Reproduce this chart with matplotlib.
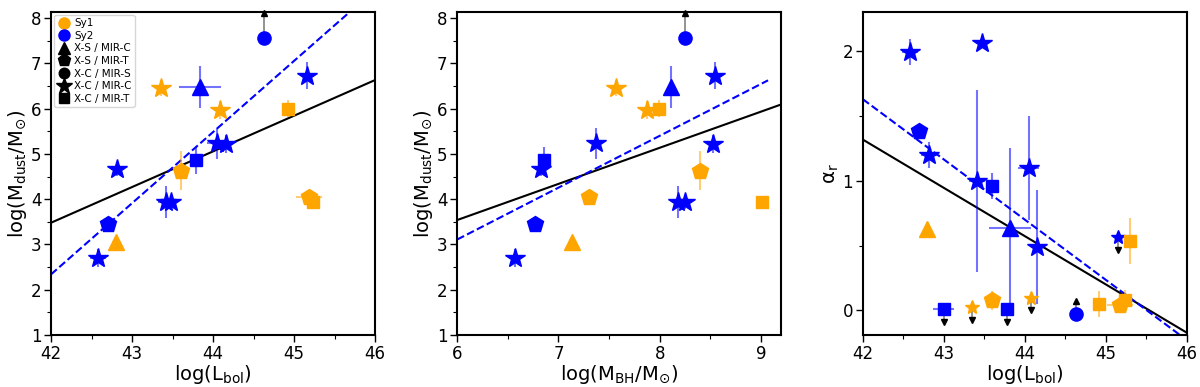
import numpy as np
import matplotlib
matplotlib.use('Agg')
from matplotlib import pyplot as plt
from matplotlib.lines import Line2D
from matplotlib.ticker import MultipleLocator

# sample shared by panels 1 and 2
lbol = [44.63, 45.16, 43.84, 43.36, 44.09, 44.92, 44.05, 44.16, 43.79,
        43.60, 42.82, 43.42, 43.48, 45.18, 45.24, 42.70, 42.80, 42.58]
lbol_err = [0.0, 0.05, 0.26, 0.05, 0.05, 0.05, 0.12, 0.05, 0.05,
            0.05, 0.08, 0.10, 0.05, 0.16, 0.05, 0.05, 0.05, 0.10]
mdust = [7.55, 6.72, 6.47, 6.45, 5.97, 6.00, 5.23, 5.22, 4.86,
         4.63, 4.66, 3.94, 3.94, 4.05, 3.94, 3.45, 3.05, 2.71]
mdust_err = [0.0, 0.30, 0.46, 0.18, 0.20, 0.18, 0.35, 0.20, 0.30,
             0.43, 0.15, 0.35, 0.15, 0.10, 0.05, 0.15, 0.05, 0.20]
mbh = [8.25, 8.55, 8.11, 7.57, 7.87, 7.99, 7.37, 8.53, 6.86,
       8.40, 6.83, 8.18, 8.25, 7.30, 9.01, 6.77, 7.13, 6.57]
agn_type = ['Sy2', 'Sy2', 'Sy2', 'Sy1', 'Sy1', 'Sy1', 'Sy2', 'Sy2', 'Sy2',
            'Sy1', 'Sy2', 'Sy2', 'Sy2', 'Sy1', 'Sy1', 'Sy2', 'Sy1', 'Sy2']
agn_class = ['X-C / MIR-S', 'X-C / MIR-C', 'X-S / MIR-C', 'X-C / MIR-C',
             'X-C / MIR-C', 'X-C / MIR-T', 'X-C / MIR-C', 'X-C / MIR-C',
             'X-C / MIR-T', 'X-S / MIR-T', 'X-C / MIR-C', 'X-C / MIR-C',
             'X-C / MIR-C', 'X-S / MIR-T', 'X-C / MIR-T', 'X-S / MIR-T',
             'X-S / MIR-C', 'X-C / MIR-C']
mdust_lim = ['lo', '', '', '', '', '', '', '', '',
             '', '', '', '', '', '', '', '', '']

# radio spectral index sample (panel 3)
a_lbol = [42.58, 43.47, 42.69, 42.82, 43.41, 43.60, 44.05, 43.82, 44.15,
          45.15, 45.30, 42.79, 43.59, 43.35, 44.08, 44.63, 44.91, 45.17,
          45.24, 43.00, 43.78]
a_lbol_err = [0.10, 0.05, 0.05, 0.10, 0.10, 0.05, 0.13, 0.26, 0.05,
              0.0, 0.0, 0.0, 0.05, 0.0, 0.0, 0.0, 0.0, 0.16,
              0.05, 0.13, 0.0]
alpha_r = [1.99, 2.06, 1.38, 1.20, 1.00, 0.96, 1.10, 0.635, 0.49,
           0.565, 0.535, 0.625, 0.077, 0.03, 0.10, -0.03, 0.05, 0.045,
           0.08, 0.01, 0.01]
alpha_err = [0.10, 0.03, 0.05, 0.10, 0.70, 0.10, 0.40, 0.62, 0.44,
             0.0, 0.18, 0.0, 0.07, 0.0, 0.0, 0.0, 0.10, 0.03,
             0.08, 0.0, 0.0]
a_type = ['Sy2', 'Sy2', 'Sy2', 'Sy2', 'Sy2', 'Sy2', 'Sy2', 'Sy2', 'Sy2',
          'Sy2', 'Sy1', 'Sy1', 'Sy1', 'Sy1', 'Sy1', 'Sy2', 'Sy1', 'Sy1',
          'Sy1', 'Sy2', 'Sy2']
a_class = ['X-C / MIR-C', 'X-C / MIR-C', 'X-S / MIR-T', 'X-C / MIR-C',
           'X-C / MIR-C', 'X-C / MIR-T', 'X-C / MIR-C', 'X-S / MIR-C',
           'X-C / MIR-C', 'X-C / MIR-C', 'X-C / MIR-T', 'X-S / MIR-C',
           'X-S / MIR-T', 'X-C / MIR-C', 'X-C / MIR-C', 'X-C / MIR-S',
           'X-C / MIR-T', 'X-S / MIR-T', 'X-C / MIR-T', 'X-C / MIR-T',
           'X-C / MIR-T']
alpha_lim = ['', '', '', '', '', '', '', '', '',
             'up', '', '', '', 'up', 'up', 'lo', '', '',
             '', 'up', 'up']

# linear fits: (slope, intercept, x start, x end)
fit_lbol_all = (0.787, -29.574, 42.0, 46.0)
fit_lbol_sy2 = (1.570, -63.600, 42.0, 46.0)
fit_mbh_all = (0.797, -1.242, 6.0, 9.2)
fit_mbh_sy2 = (1.144, -3.754, 6.0, 9.07)
fit_alpha_all = (-0.372, 16.941, 42.0, 46.0)
fit_alpha_sy2 = (-0.464, 21.116, 42.0, 46.0)

COLORS = {'Sy1': 'orange', 'Sy2': 'blue'}
MARKERS = {'X-S / MIR-C': ('^', 11), 'X-S / MIR-T': ('p', 12),
           'X-C / MIR-S': ('o', 9.5), 'X-C / MIR-C': ('*', 15),
           'X-C / MIR-T': ('s', 9)}


def draw_points(ax, xs, ys, xerr, yerr, types, classes, lims, arrow_len):
    for i in range(len(xs)):
        col = COLORS[types[i]]
        mk, ms = MARKERS[classes[i]]
        if lims[i] == 'up' and mk == '*':
            ms = 10
        xe = xerr[i] if xerr is not None and xerr[i] > 0 else None
        ye = yerr[i] if yerr is not None and yerr[i] > 0 else None
        if xe is not None or ye is not None:
            ax.errorbar(xs[i], ys[i], xerr=xe, yerr=ye, fmt='none',
                        ecolor=col, alpha=0.55, elinewidth=1.5, zorder=2)
        if lims[i]:
            d = arrow_len if lims[i] == 'lo' else -arrow_len
            ax.plot([xs[i], xs[i]], [ys[i], ys[i] + d], color='gray',
                    lw=1.2, zorder=2)
            ax.plot(xs[i], ys[i] + d, marker='^' if d > 0 else 'v',
                    color='k', ms=5, ls='none', zorder=3, clip_on=False)
        ax.plot(xs[i], ys[i], marker=mk, ms=ms, color=col, ls='none',
                zorder=4)


def draw_fit(ax, fit, **kw):
    a, b, x0, x1 = fit
    x = np.array([x0, x1])
    ax.plot(x, a * x + b, **kw)


def style_axes(ax, xlabel, ylabel):
    for s in ax.spines.values():
        s.set_linewidth(1.5)
    ax.tick_params(which='major', labelsize=12, length=5, width=1, pad=2)
    ax.tick_params(which='minor', length=3, width=0.8)
    ax.xaxis.set_major_locator(MultipleLocator(1))
    ax.xaxis.set_minor_locator(MultipleLocator(0.5))
    ax.yaxis.set_major_locator(MultipleLocator(1))
    ax.yaxis.set_minor_locator(MultipleLocator(0.5))
    ax.set_xlabel(xlabel, fontsize=14, labelpad=0)
    ax.set_ylabel(ylabel, fontsize=14, labelpad=1)


fig = plt.figure(figsize=(12, 3.87), dpi=100)
ax1 = fig.add_axes([0.0425, 0.134, 0.27, 0.835])
ax2 = fig.add_axes([0.381, 0.134, 0.27, 0.835])
ax3 = fig.add_axes([0.719, 0.134, 0.27, 0.835])

# panel 1
draw_points(ax1, lbol, mdust, lbol_err, mdust_err, agn_type, agn_class,
            mdust_lim, 0.55)
draw_fit(ax1, fit_lbol_all, color='k', lw=1.5, zorder=1)
draw_fit(ax1, fit_lbol_sy2, color='blue', lw=1.5, ls='--', zorder=1)
ax1.set_xlim(42, 46)
ax1.set_ylim(1, 8.13)
style_axes(ax1, r'log(L$_{\rm bol}$)', r'log(M$_{\rm dust}$/M$_{\odot}$)')

handles = [Line2D([], [], marker='o', color='orange', ls='none', ms=8),
           Line2D([], [], marker='o', color='blue', ls='none', ms=8)]
labels = ['Sy1', 'Sy2']
for name, (mk, ms) in MARKERS.items():
    handles.append(Line2D([], [], marker=mk, color='k', ls='none',
                          ms=ms * 0.8))
    labels.append(name)
ax1.legend(handles, labels, loc='upper left', fontsize=7.5,
           handletextpad=0.4, borderpad=0.3, labelspacing=0.25,
           handlelength=1.2, borderaxespad=0.3)

# panel 2
draw_points(ax2, mbh, mdust, None, mdust_err, agn_type, agn_class,
            mdust_lim, 0.55)
draw_fit(ax2, fit_mbh_all, color='k', lw=1.5, zorder=1)
draw_fit(ax2, fit_mbh_sy2, color='blue', lw=1.5, ls='--', zorder=1)
ax2.set_xlim(6, 9.2)
ax2.set_ylim(1, 8.13)
style_axes(ax2, r'log(M$_{\rm BH}$/M$_{\odot}$)',
           r'log(M$_{\rm dust}$/M$_{\odot}$)')

# panel 3
draw_points(ax3, a_lbol, alpha_r, a_lbol_err, alpha_err, a_type, a_class,
            alpha_lim, 0.1)
draw_fit(ax3, fit_alpha_all, color='k', lw=1.5, zorder=1)
draw_fit(ax3, fit_alpha_sy2, color='blue', lw=1.5, ls='--', zorder=1)
ax3.set_xlim(42, 46)
ax3.set_ylim(-0.19, 2.3)
style_axes(ax3, r'log(L$_{\rm bol}$)', r'α$_{\rm r}$')

fig.savefig('out.png', dpi=100)
